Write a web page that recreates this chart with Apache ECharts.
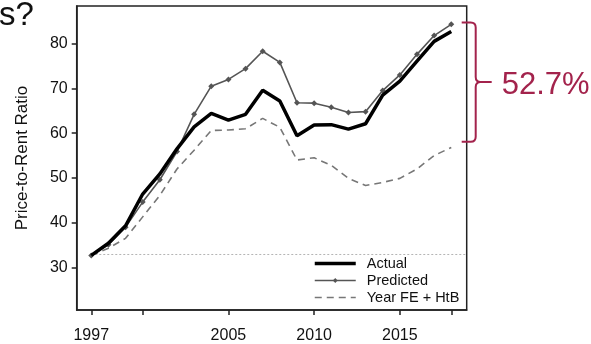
<!DOCTYPE html>
<html>
<head>
<meta charset="utf-8">
<script src="https://cdn.jsdelivr.net/npm/echarts@6/dist/echarts.min.js"></script>
<style>
  html, body { margin: 0; padding: 0; background: #fff; }
  #main { width: 591px; height: 344px; }
</style>
</head>
<body>
<div id="main"></div>
<script>
// Price-to-rent ratio, 1997-2018
const years = [1997, 1998, 1999, 2000, 2001, 2002, 2003, 2004, 2005, 2006, 2007,
               2008, 2009, 2010, 2011, 2012, 2013, 2014, 2015, 2016, 2017, 2018];
const actual = [32.7, 35.4, 39.3, 46.4, 50.9, 56.5, 61.4, 64.4, 62.9, 64.2, 69.6,
                67.2, 59.4, 61.8, 61.9, 60.9, 62.1, 68.5, 71.6, 76.1, 80.5, 82.7];
const predicted = [32.7, 35.1, 39.0, 44.6, 49.6, 55.9, 64.2, 70.5, 72.0, 74.4, 78.3,
                   75.8, 66.8, 66.7, 65.8, 64.6, 64.8, 69.5, 73.0, 77.6, 81.8, 84.3];
const yearFE = [32.7, 34.3, 36.5, 41.3, 46.1, 52.0, 56.2, 60.6, 60.7, 61.0, 63.3,
                61.3, 54.0, 54.5, 52.8, 49.9, 48.3, 49.0, 49.9, 52.0, 55.0, 56.8];
const baseline = 32.9;

const xLabelValues = [1997, 2005, 2010, 2015];
const xTickValues = [1997, 2000, 2005, 2010, 2015, 2018];
const yTickValues = [30, 40, 50, 60, 70, 80];

// bracket on the right: gap between predicted and the year-FE path
const bracketTop = 84.7;
const bracketBottom = 58.1;
const bracketLabel = '52.7%';

const X_MIN = 1996.15, X_MAX = 2018.9;
const FONT = '"Liberation Sans", Arial, sans-serif';
const RED = '#a3234c';

const pair = (xs, ys) => xs.map((x, i) => [x, ys[i]]);

// curly brace drawn just right of the plot frame, spanning two y values
function renderBrace(params, api) {
  const yt = api.coord([X_MAX, api.value(0)])[1];
  const yb = api.coord([X_MAX, api.value(1)])[1];
  const edge = api.coord([X_MAX, api.value(0)])[0];
  const ym = (yt + yb) / 2;
  const x0 = edge - 5, xv = edge + 9, xt = edge + 25, r = 5;
  const d = [
    'M', x0, yt, 'L', xv - r, yt, 'Q', xv, yt, xv, yt + r,
    'L', xv, ym - r, 'Q', xv, ym, xv + r, ym, 'L', xt, ym,
    'M', xv + r, ym, 'Q', xv, ym, xv, ym + r,
    'L', xv, yb - r, 'Q', xv, yb, xv - r, yb, 'L', x0, yb
  ].join(' ');
  return {
    type: 'group',
    children: [
      { type: 'path', shape: { pathData: d }, style: { fill: null, stroke: RED, lineWidth: 2 } },
      {
        type: 'text', x: edge + 35, y: ym + 3,
        style: { text: bracketLabel, font: '31px ' + FONT, fill: RED, verticalAlign: 'middle', align: 'left' }
      }
    ]
  };
}

const chart = echarts.init(document.getElementById('main'));
chart.setOption({
  animation: false,
  textStyle: { fontFamily: FONT },
  grid: {
    left: 76.7, right: 124.3, top: 6, bottom: 32.3,
    show: true, borderColor: '#222', borderWidth: 1.5, backgroundColor: 'transparent'
  },
  xAxis: {
    type: 'value', min: X_MIN, max: X_MAX,
    axisLine: { show: true, lineStyle: { color: '#222', width: 1.5 } },
    axisTick: { show: true, length: 5, customValues: xTickValues, lineStyle: { color: '#222', width: 1.5 } },
    axisLabel: {
      customValues: xLabelValues, formatter: v => String(v),
      fontSize: 16, color: '#111', margin: 18, fontFamily: FONT
    },
    splitLine: { show: false }
  },
  yAxis: {
    type: 'value', min: 20.5, max: 88.4,
    name: 'Price-to-Rent Ratio', nameLocation: 'middle', nameRotate: 90, nameGap: 46,
    nameTextStyle: { fontSize: 17, color: '#111', fontFamily: FONT },
    axisLine: { show: true, lineStyle: { color: '#222', width: 1.5 } },
    axisTick: { show: true, length: 5, customValues: yTickValues, lineStyle: { color: '#222', width: 1.5 } },
    axisLabel: { customValues: yTickValues, fontSize: 16, color: '#111', margin: 9, fontFamily: FONT },
    splitLine: { show: false }
  },
  legend: {
    orient: 'vertical', left: 313, top: 256,
    itemWidth: 41, itemHeight: 6, itemGap: 2, padding: 0,
    data: [
      { name: 'Actual', itemStyle: { opacity: 0 }, lineStyle: { width: 3.5, color: '#000' } },
      { name: 'Predicted', lineStyle: { width: 1.6, color: '#555' } },
      { name: 'Year FE + HtB', itemStyle: { opacity: 0 }, lineStyle: { width: 1.6, color: '#777', type: [7, 5] } }
    ],
    textStyle: { fontSize: 14.5, color: '#111', fontFamily: FONT, padding: [0, 0, 0, 6] }
  },
  graphic: [
    {
      type: 'text', z: 100, x: -1, y: 16,
      style: { text: 's?', font: '33px ' + FONT, fill: '#111', verticalAlign: 'middle', align: 'left' }
    }
  ],
  series: [
    {
      name: 'baseline', type: 'line', silent: true, symbol: 'none',
      data: [[1997, baseline], [X_MAX, baseline]],
      lineStyle: { color: '#b5b5b5', width: 1, type: [2, 2] }, z: 1
    },
    {
      name: 'Year FE + HtB', type: 'line', symbol: 'none',
      data: pair(years, yearFE),
      lineStyle: { color: '#777', width: 1.6, type: [7, 5] }, itemStyle: { color: '#777' }, z: 2
    },
    {
      name: 'Predicted', type: 'line', symbol: 'diamond', symbolSize: 6,
      data: pair(years, predicted),
      lineStyle: { color: '#555', width: 1.6 }, itemStyle: { color: '#555' }, z: 3
    },
    {
      name: 'Actual', type: 'line', symbol: 'none',
      data: pair(years, actual),
      lineStyle: { color: '#000', width: 3.5 }, itemStyle: { color: '#000' }, z: 4
    },
    {
      name: 'gap', type: 'custom', clip: false, silent: true, z: 10,
      renderItem: renderBrace,
      data: [[bracketTop, bracketBottom]]
    }
  ]
});
</script>
</body>
</html>
